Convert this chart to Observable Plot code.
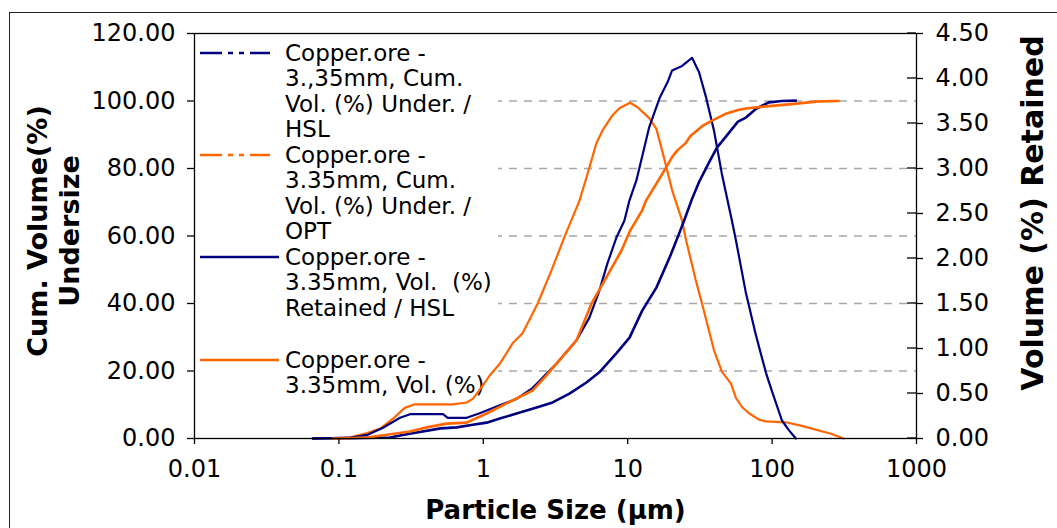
<!DOCTYPE html>
<html>
<head>
<meta charset="utf-8">
<script src="https://cdn.jsdelivr.net/npm/d3@7"></script>
<script src="https://cdn.jsdelivr.net/npm/@observablehq/plot@0.6"></script>
<style>
  html, body { margin: 0; padding: 0; background: #fff; }
  #wrap { position: relative; width: 1057px; height: 528px; overflow: hidden; background: #fff; }
  #wrap svg { position: absolute; left: 0; top: 0; }
  #border { position: absolute; left: 9px; top: 12px; width: 2000px; height: 2000px;
            border-left: 1.5px solid #222; border-top: 1.5px solid #222; pointer-events: none; }
</style>
</head>
<body>
<div id="wrap"><div id="border"></div></div>
<script>
// ---------------- DATA ----------------
// HSL cumulative volume (%) undersize  (left axis)
const hslCumSize = [0.066, 0.120, 0.226, 0.265, 0.347, 0.506, 0.655, 0.805, 1.055, 1.30, 1.70, 2.34, 3.02, 3.95, 5.18, 6.36, 8.34, 10.3, 12.6, 15.8, 19.5, 22.7, 24.6, 27.9, 31.2, 36.6, 41.5, 47.4, 58.0, 65.9, 77.5, 95.0, 117, 146];
const hslCumVol  = [0, 0.1, 0.3, 0.9, 1.8, 3.0, 3.3, 3.9, 4.7, 5.9, 7.4, 9.2, 10.7, 13.3, 16.6, 19.6, 25.2, 29.9, 37.9, 44.7, 53.6, 60.7, 64.6, 71.0, 76.0, 81.8, 86.2, 89.2, 93.9, 95.1, 97.7, 99.6, 100.0, 100.1];

// OPT cumulative volume (%) undersize  (left axis)
const optCumSize = [0.091, 0.157, 0.311, 0.406, 0.558, 0.767, 1.055, 1.45, 2.19, 2.74, 3.21, 4.41, 5.62, 7.13, 9.06, 10.4, 12.6, 13.4, 15.8, 18.5, 20.3, 22.0, 25.3, 27.2, 32.9, 38.4, 47.7, 59.0, 65.9, 90.7, 131, 210, 289];
const optCumVol  = [0, 0.3, 2.1, 3.3, 4.4, 4.7, 7.4, 10.4, 14.2, 18.7, 22.2, 29.0, 40.0, 47.8, 55.7, 61.6, 67.6, 70.5, 75.5, 80.4, 83.4, 85.3, 87.6, 89.6, 92.6, 94.2, 96.2, 97.4, 97.8, 98.4, 99.0, 99.9, 100.0];

// HSL volume (%) retained  (right axis)
const hslPsdSize = [0.066, 0.120, 0.157, 0.202, 0.265, 0.311, 0.526, 0.567, 0.768, 0.944, 1.30, 1.70, 2.19, 2.45, 2.78, 3.21, 4.41, 5.42, 6.36, 7.22, 8.34, 9.48, 10.26, 11.5, 14.1, 16.6, 18.9, 20.3, 23.8, 27.9, 31.2, 34.9, 39.6, 44.9, 52.7, 56.2, 66.0, 77.5, 90.7, 99.6, 117, 131, 146];
const hslPsdVol  = [0, 0.01, 0.04, 0.12, 0.23, 0.27, 0.27, 0.23, 0.23, 0.28, 0.37, 0.44, 0.56, 0.64, 0.73, 0.83, 1.09, 1.34, 1.64, 1.94, 2.23, 2.42, 2.64, 2.87, 3.46, 3.78, 3.96, 4.09, 4.14, 4.23, 4.07, 3.79, 3.42, 2.94, 2.42, 2.20, 1.61, 1.14, 0.73, 0.53, 0.20, 0.09, 0];

// OPT volume (%) retained  (right axis)
const optPsdSize = [0.091, 0.119, 0.157, 0.193, 0.237, 0.286, 0.336, 0.615, 0.767, 0.845, 0.975, 1.107, 1.30, 1.60, 1.87, 2.38, 2.97, 3.65, 4.63, 5.18, 5.61, 6.07, 6.68, 7.83, 8.75, 10.4, 11.7, 14.1, 15.8, 17.1, 17.9, 20.3, 23.8, 25.4, 29.6, 32.7, 39.6, 45.0, 51.9, 56.2, 61.9, 69.2, 81.1, 90.7, 124.5, 160.6, 259, 313];
const optPsdVol  = [0, 0.01, 0.06, 0.11, 0.22, 0.34, 0.38, 0.38, 0.40, 0.44, 0.57, 0.70, 0.83, 1.06, 1.17, 1.50, 1.87, 2.24, 2.64, 2.90, 3.09, 3.28, 3.42, 3.59, 3.67, 3.73, 3.68, 3.56, 3.44, 3.23, 3.11, 2.76, 2.42, 2.20, 1.76, 1.50, 0.98, 0.74, 0.61, 0.45, 0.35, 0.28, 0.21, 0.19, 0.18, 0.14, 0.05, 0];

// Axes
const xTicks = [0.01, 0.1, 1, 10, 100, 1000];
const xTickLabels = ["0.01", "0.1", "1", "10", "100", "1000"];
const leftTicks = [0, 20, 40, 60, 80, 100, 120];
const leftTickLabels = ["0.00", "20.00", "40.00", "60.00", "80.00", "100.00", "120.00"];
const gridValues = [20, 40, 60, 80, 100];
const rightTicks = [0, 0.5, 1, 1.5, 2, 2.5, 3, 3.5, 4, 4.5];
const rightTickLabels = ["0.00", "0.50", "1.00", "1.50", "2.00", "2.50", "3.00", "3.50", "4.00", "4.50"];
const rightMax = 4.5, leftMax = 120;

// Legend
const seriesNames = [
  ["Copper.ore -", "3.,35mm, Cum.", "Vol. (%) Under. /", "HSL"],
  ["Copper.ore -", "3.35mm, Cum.", "Vol. (%) Under. /", "OPT"],
  ["Copper.ore -", "3.35mm, Vol.  (%)", "Retained / HSL"],
  ["Copper.ore -", "3.35mm, Vol. (%)"]
];
const seriesColors = ["#000080", "#FF6600", "#000080", "#FF6600"];
const seriesDashed = [true, true, false, false];

const xLabel = "Particle Size (µm)";
const yLeftLabel = "Cum. Volume(%)\nUndersize";
const yRightLabel = "Volume (%) Retained";

// ---------------- CHART ----------------
const k = leftMax / rightMax;
const toRows = (sizes, vals, f) => sizes.map((s, i) => ({x: s, y: vals[i] * f}));
const rightPos = rightTicks.map(v => v * k);

const W = 1057, H = 528;
const mL = 194, mR = 141, mT = 33, mB = 90;
const FONT = "DejaVu Sans, Verdana, sans-serif";

function legendMark(index, scales, values, dims) {
  const g = d3.create("svg:g");
  const x0 = dims.marginLeft, y0 = dims.marginTop;
  g.append("rect")
    .attr("x", x0 + 1).attr("y", y0 + 1)
    .attr("width", 303).attr("height", dims.height - dims.marginBottom - y0 - 2)
    .attr("fill", "#fff");
  const entryY = [53, 155, 257, 360];
  const lh = 25.4;
  seriesNames.forEach((lines, i) => {
    const yy = entryY[i];
    g.append("line")
      .attr("x1", x0 + 6).attr("x2", seriesDashed[i] ? x0 + 76 : x0 + 85)
      .attr("y1", yy).attr("y2", yy)
      .attr("stroke", seriesColors[i]).attr("stroke-width", 2.5)
      .attr("stroke-dasharray", seriesDashed[i] ? "22,6,5,6,5,6" : null);
    const t = g.append("text")
      .attr("font-family", FONT).attr("font-size", 23).attr("fill", "#000")
      .attr("text-anchor", "start")
      .style("white-space", "pre");
    lines.forEach((s, j) => {
      t.append("tspan").attr("x", x0 + 91).attr("y", yy + j * lh)
        .attr("dominant-baseline", "central").text(s);
    });
  });
  return g.node();
}

function rightInnerTicks(index, scales, values, dims) {
  const g = d3.create("svg:g");
  const xr = dims.width - dims.marginRight;
  rightPos.forEach(p => {
    const yy = scales.y(p);
    g.append("line").attr("x1", xr - 9).attr("x2", xr).attr("y1", yy).attr("y2", yy)
      .attr("stroke", "#000").attr("stroke-width", 1.3);
  });
  return g.node();
}

const chart = Plot.plot({
  width: W, height: H,
  marginLeft: mL, marginRight: mR, marginTop: mT, marginBottom: mB,
  style: {fontFamily: FONT, fontSize: "24px", background: "transparent", color: "#000", overflow: "visible"},
  x: {type: "log", domain: [0.01, 1000]},
  y: {domain: [0, leftMax]},
  marks: [
    Plot.ruleY(gridValues, {y: d => d, stroke: "#a8a8a8", strokeWidth: 1.5, strokeDasharray: "8,7"}),
    legendMark,
    Plot.line(toRows(optPsdSize, optPsdVol, k), {x: "x", y: "y", stroke: seriesColors[3], strokeWidth: 2.2}),
    Plot.line(toRows(hslPsdSize, hslPsdVol, k), {x: "x", y: "y", stroke: seriesColors[2], strokeWidth: 2.2}),
    Plot.line(toRows(hslCumSize, hslCumVol, 1), {x: "x", y: "y", stroke: seriesColors[0], strokeWidth: 2.6}),
    Plot.line(toRows(optCumSize, optCumVol, 1), {x: "x", y: "y", stroke: seriesColors[1], strokeWidth: 2.6}),
    Plot.frame({stroke: "#000", strokeWidth: 1.3}),
    Plot.axisX(xTicks, {tickFormat: d => xTickLabels[xTicks.indexOf(d)], tickSize: 6, tickPadding: 15, fontSize: 24, label: null, stroke: "#000", strokeWidth: 1.3}),
    Plot.axisY(leftTicks, {anchor: "left", tickFormat: d => leftTickLabels[leftTicks.indexOf(d)], tickSize: 7, tickPadding: 12, fontSize: 24, label: null, strokeWidth: 1.3}),
    Plot.axisY(rightPos, {anchor: "right", tickFormat: d => rightTickLabels[rightPos.indexOf(d)], tickSize: 6, tickPadding: 13, fontSize: 24, label: null, strokeWidth: 1.3}),
    rightInnerTicks,
    Plot.text([xLabel], {text: d => d, frameAnchor: "bottom", dy: 72, fontSize: 26, fontWeight: "bold", lineAnchor: "middle", textAnchor: "middle"}),
    Plot.text([yLeftLabel], {text: d => d, frameAnchor: "left", dx: -142, dy: -5, rotate: -90, fontSize: 27, fontWeight: "bold", lineAnchor: "middle", textAnchor: "middle", lineHeight: 1.2}),
    Plot.text([yRightLabel], {text: d => d, frameAnchor: "right", dx: 117, dy: -23, rotate: -90, fontSize: 30, fontWeight: "bold", lineAnchor: "middle", textAnchor: "middle"})
  ]
});
document.getElementById("wrap").insertBefore(chart, document.getElementById("border"));
</script>
</body>
</html>
